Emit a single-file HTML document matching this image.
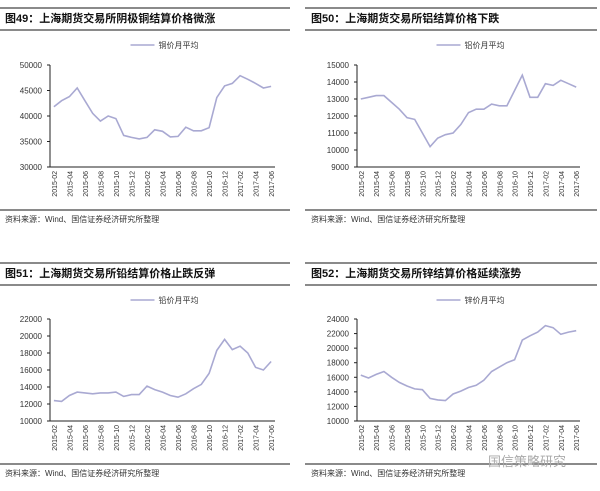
<!DOCTYPE html><html><head><meta charset="utf-8"><style>
body{margin:0;background:#fff;width:600px;height:486px;overflow:hidden}
svg text{font-family:"Liberation Sans","Noto Sans CJK SC",sans-serif}
</style></head><body>
<svg id="s" width="600" height="486" xmlns="http://www.w3.org/2000/svg"></svg>
<script>
const S=document.getElementById('s');let h='';
const labs=['2015-02','2015-04','2015-06','2015-08','2015-10','2015-12','2016-02','2016-04','2016-06','2016-08','2016-10','2016-12','2017-02','2017-04','2017-06'];
function chart(c){
 const {rx0,rx1,ry,title,tx,leg,ax,ax1,top,bot,min,max,step,data,src}=c;
 h+=`<line x1="${rx0}" x2="${rx1}" y1="${ry}" y2="${ry}" stroke="#444" stroke-width="1.3"/>`;
 h+=`<text x="${tx}" y="${ry+14}" font-size="11" font-weight="bold" fill="#111">${title}</text>`;
 h+=`<line x1="${rx0}" x2="${rx1}" y1="${ry+22}" y2="${ry+22}" stroke="#444" stroke-width="1.3"/>`;
 const ly=ry+37,lx=(ax+ax1)/2;
 h+=`<line x1="${lx-32}" x2="${lx-8}" y1="${ly}" y2="${ly}" stroke="#a9a9d2" stroke-width="1.5"/>`;
 h+=`<text x="${lx-4}" y="${ly+3}" font-size="8" fill="#333">${leg}</text>`;
 const Y=v=>bot-(v-min)/(max-min)*(bot-top);
 h+=`<line x1="${ax}" x2="${ax}" y1="${top}" y2="${bot}" stroke="#222"/>`;
 h+=`<line x1="${ax}" x2="${ax1}" y1="${bot}" y2="${bot}" stroke="#222"/>`;
 for(let v=min;v<=max;v+=step){const y=Y(v);h+=`<line x1="${ax-3}" x2="${ax}" y1="${y}" y2="${y}" stroke="#222"/><text x="${ax-8}" y="${y+3}" font-size="8" text-anchor="end" fill="#333">${v}</text>`;}
 const n=data.length,dx=(ax1-ax)/n;
 const X=i=>ax+dx*(i+0.5);
 h+=`<polyline fill="none" stroke="#a9a9d2" stroke-width="1.6" points="${data.map((v,i)=>X(i).toFixed(1)+','+Y(v).toFixed(1)).join(' ')}"/>`;
 labs.forEach((l,k)=>{const x=X(2*k);h+=`<text transform="translate(${x+3},${bot+4}) rotate(-90)" font-size="7" text-anchor="end" fill="#333">${l}</text>`;});
 h+=`<line x1="${rx0}" x2="${rx1}" y1="${bot+43}" y2="${bot+43}" stroke="#444" stroke-width="1.2"/>`;
 h+=`<text x="${tx}" y="${bot+55}" font-size="8" fill="#333">${src}</text>`;
}
const src='资料来源：Wind、国信证券经济研究所整理';
chart({rx0:0,rx1:290,ry:8,title:'图49：上海期货交易所阴极铜结算价格微涨',tx:5,leg:'铜价月平均',ax:50,ax1:275,top:65,bot:167,min:30000,max:50000,step:5000,src,
data:[41800,43000,43800,45500,43000,40500,39000,40000,39500,36200,35800,35500,35800,37300,37000,35900,36000,37800,37100,37100,37700,43600,45900,46400,47900,47200,46400,45500,45800]});
chart({rx0:305,rx1:597,ry:8,title:'图50：上海期货交易所铝结算价格下跌',tx:311,leg:'铝价月平均',ax:357,ax1:580,top:65,bot:167,min:9000,max:15000,step:1000,src,
data:[13000,13100,13200,13200,12800,12400,11900,11800,11000,10200,10700,10900,11000,11500,12200,12400,12400,12700,12600,12600,13500,14400,13100,13100,13900,13800,14100,13900,13700]});
chart({rx0:0,rx1:290,ry:263,title:'图51：上海期货交易所铅结算价格止跌反弹',tx:5,leg:'铅价月平均',ax:50,ax1:275,top:319,bot:421,min:10000,max:22000,step:2000,src,
data:[12400,12300,13000,13400,13300,13200,13300,13300,13400,12900,13100,13100,14100,13700,13400,13000,12800,13200,13800,14300,15600,18300,19600,18400,18800,18000,16300,16000,17000]});
chart({rx0:305,rx1:597,ry:263,title:'图52：上海期货交易所锌结算价格延续涨势',tx:311,leg:'锌价月平均',ax:357,ax1:580,top:319,bot:421,min:10000,max:24000,step:2000,src,
data:[16300,15900,16400,16800,16000,15300,14800,14400,14300,13100,12900,12800,13700,14100,14600,14900,15600,16800,17400,18000,18400,21100,21700,22200,23100,22800,21900,22200,22400]});
h+=`<text x="488" y="466" font-size="13" fill="#aaa" font-family="Noto Sans CJK SC">国信策略研究</text>`;
S.innerHTML=h;
</script></body></html>
